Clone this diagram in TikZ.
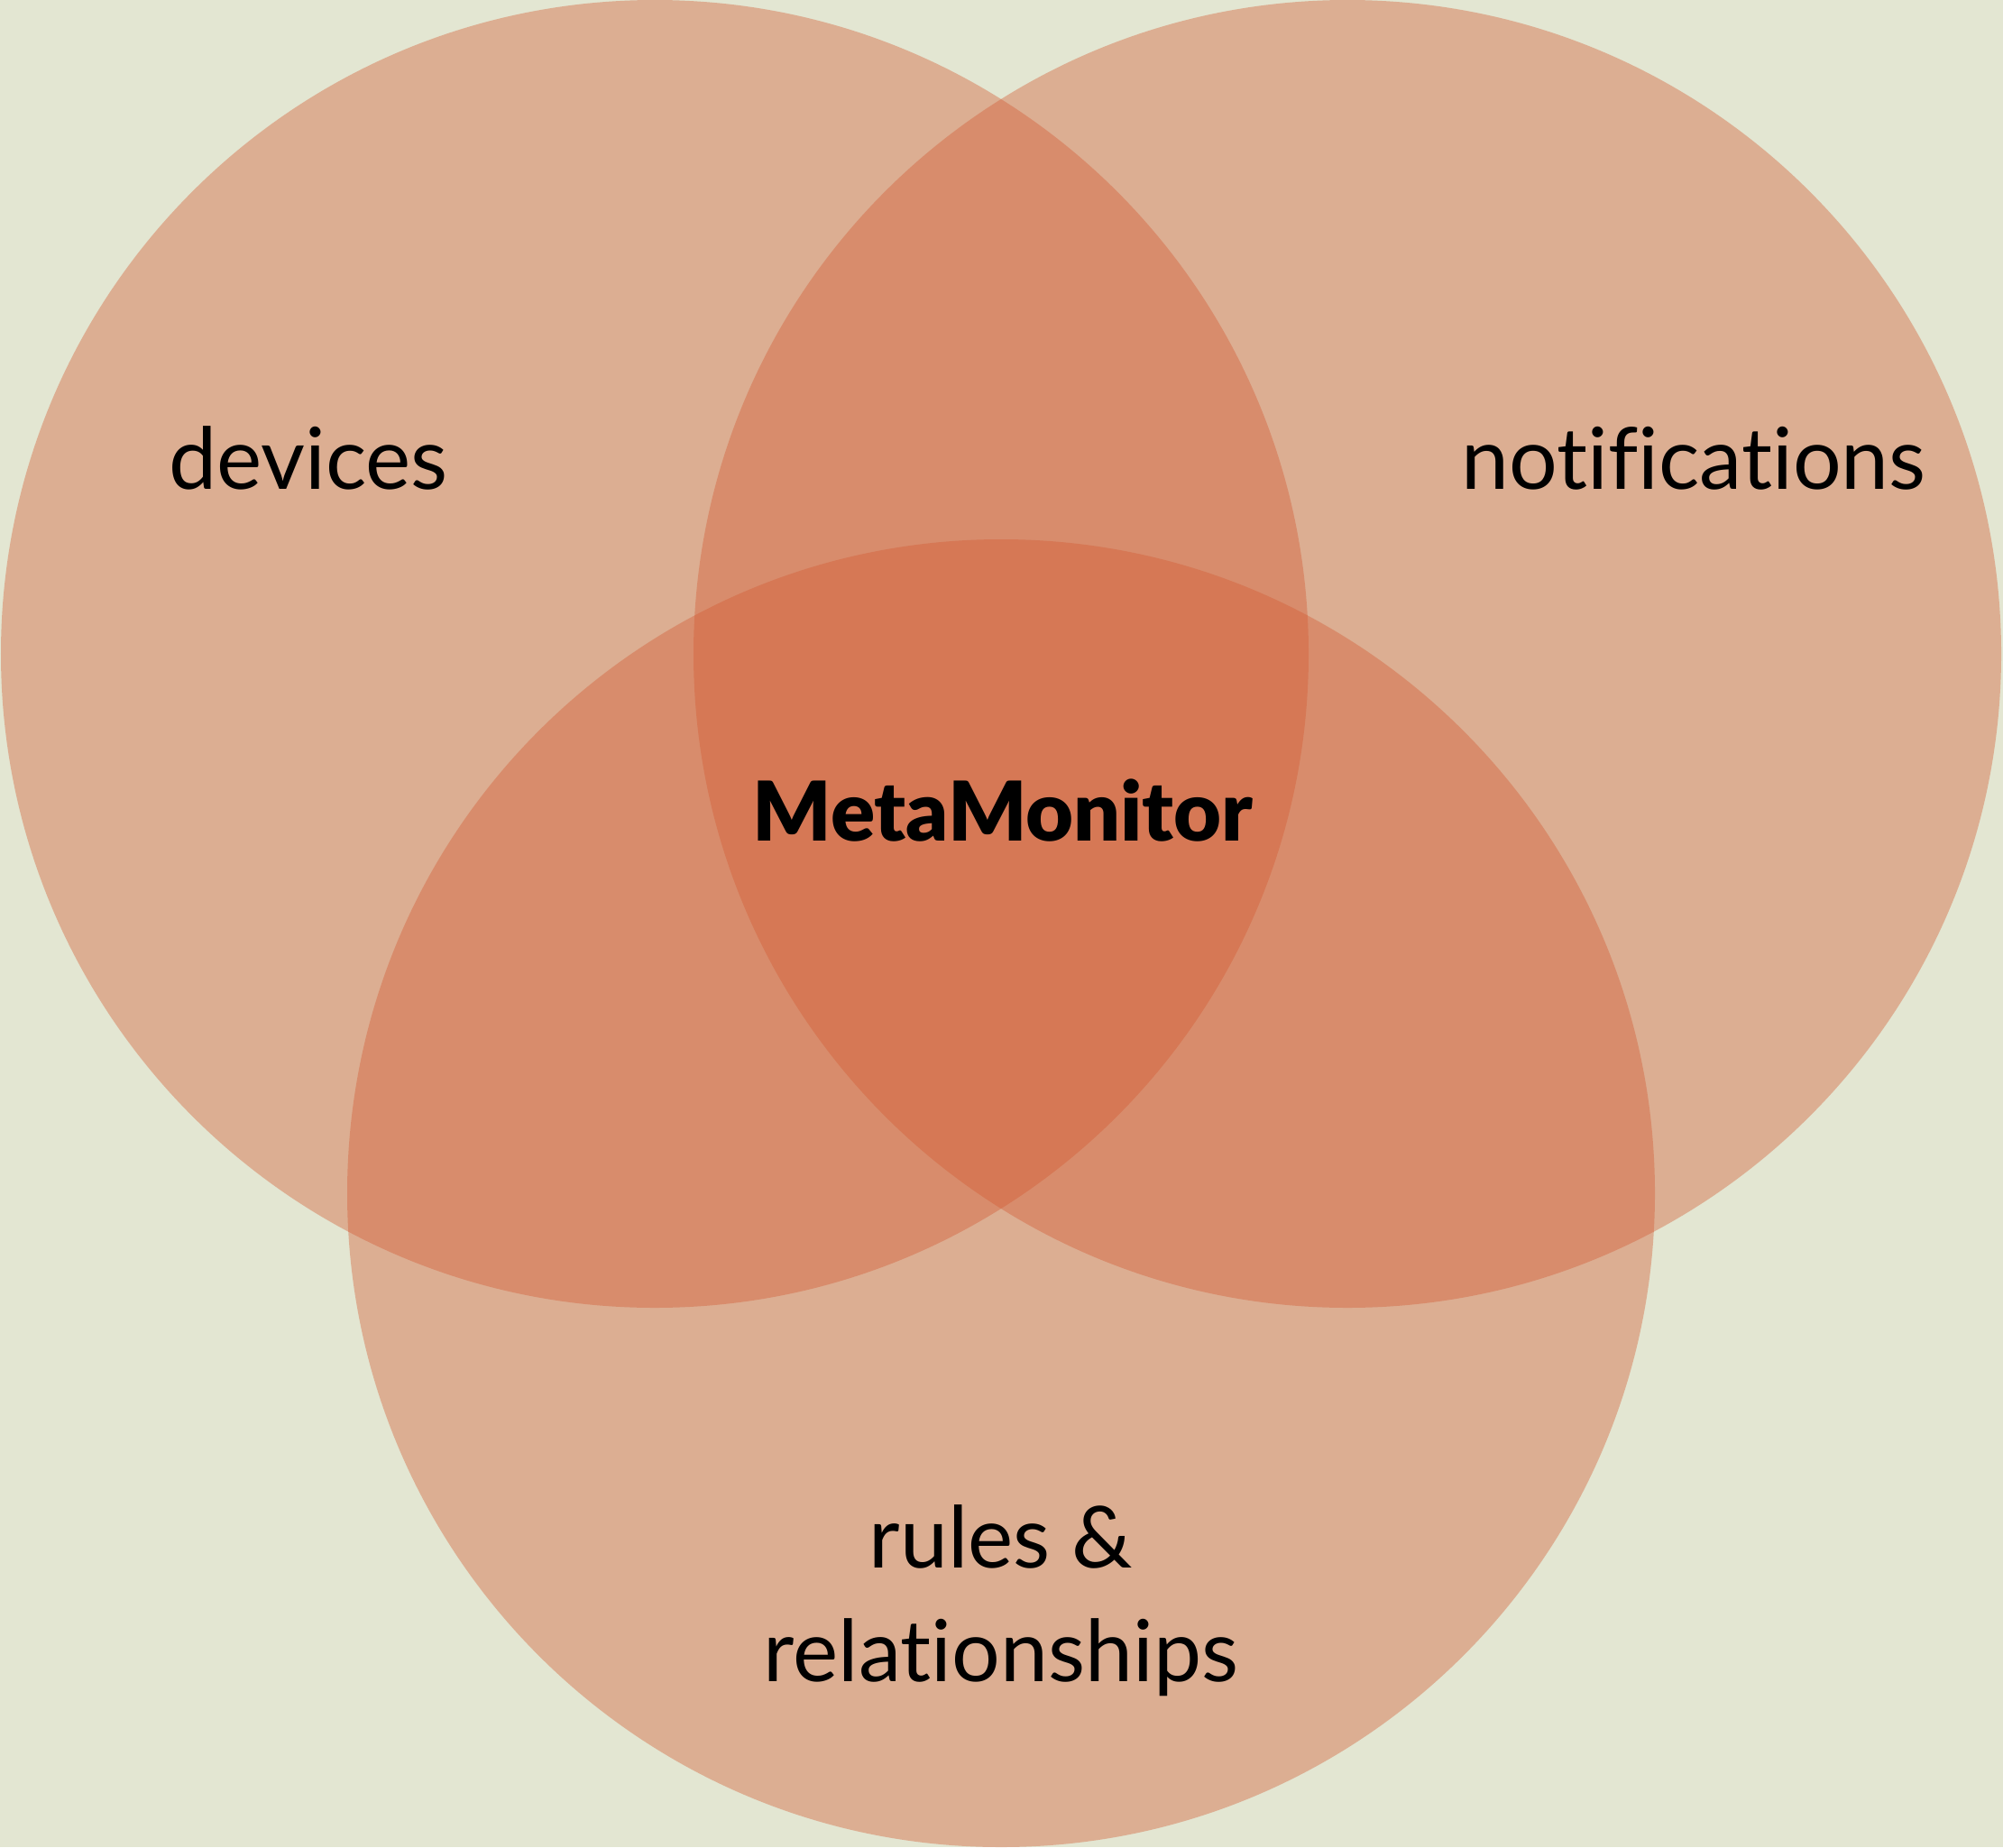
\documentclass[tikz,border=0pt]{standalone}
\usepackage{fontspec}
\setmainfont[Ligatures={NoCommon,NoRequired,NoContextual}]{Lato}
\newfontfamily\heavyfont[Ligatures={NoCommon,NoRequired,NoContextual}]{Lato Black}
\usepackage{tikz}
\definecolor{vnback}{RGB}{227,230,210}
\definecolor{vnfill}{RGB}{211,91,52}
\tikzset{
  setcircle/.style={circle,fill=vnfill,fill opacity=0.4,
    minimum size=14.5cm,inner sep=0pt},
  setlabel/.style={font=\fontsize{27}{33}\selectfont,anchor=base},
  corelabel/.style={font=\fontsize{26}{32}\heavyfont,anchor=base}
}

\begin{document}
\begin{tikzpicture}
  \fill[vnback] (0,0) rectangle (22.21,20.48);
  \useasboundingbox (0,0) rectangle (22.21,20.48);

  \node[setcircle] (dev)  at (7.26,13.23)  {};
  \node[setcircle] (note) at (14.94,13.23) {};
  \node[setcircle] (rule) at (11.10,7.25)  {};

  % Labels
  \node[setlabel] (devl)  at (3.42,15.06)  {devices};
  \node[setlabel] (notel) at (18.78,15.06) {notifications};
  \node[setlabel] (rulel) at (11.10,3.10)  {rules \&};
  \node[setlabel] (rell)  at (11.10,1.84)  {relationships};
  \node[corelabel] (core) at (11.12,11.16) {MetaMonitor};
\end{tikzpicture}
\end{document}
